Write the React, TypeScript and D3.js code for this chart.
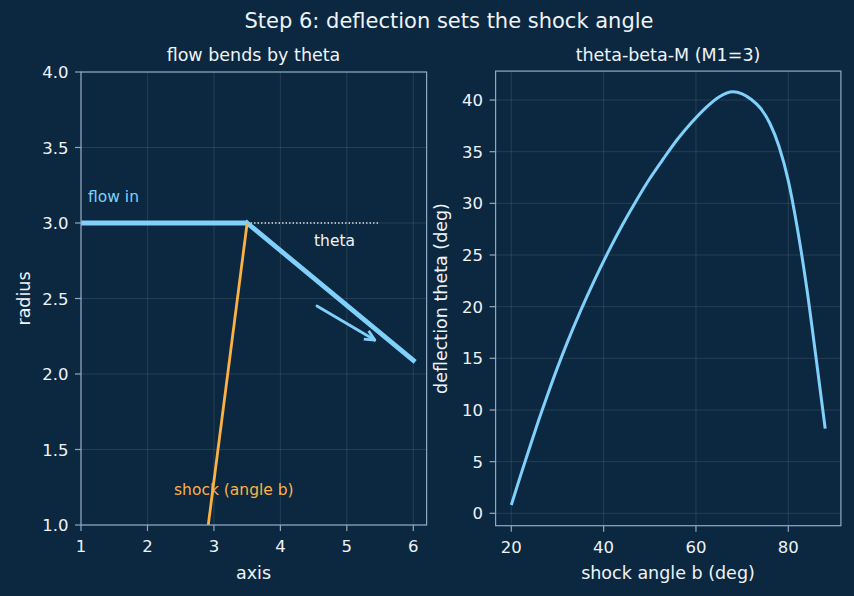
import { useMemo } from 'react';
import * as d3 from 'd3';

// Left panel: wall geometry (axis position, radius)
const FLOW_IN_X = [1, 3.5];
const FLOW_IN_Y = [3.0, 3.0];
const WALL_X = [3.5, 6.0];
const WALL_Y = [3.0, 2.09];
const REF_X = [3.5, 5.5];
const REF_Y = [3.0, 3.0];
const SHOCK_X = [3.5, 2.915];
const SHOCK_Y = [3.0, 1.0];
const ARROW_FROM = [4.55, 2.45];
const ARROW_TO = [5.42, 2.225];

// Right panel: deflection vs shock angle for M1 = 3
const BETA = [20, 22, 24, 26, 28, 30, 32, 35, 38, 41, 44, 47, 50, 53, 56, 59, 62, 65, 68, 70, 72, 74, 76, 78, 80, 82, 84, 86, 88];
const THETA = [0.8, 3.65, 6.4, 9.1, 11.65, 14.1, 16.4, 19.6, 22.55, 25.3, 27.85, 30.2, 32.4, 34.35, 36.2, 37.8, 39.2, 40.3, 40.8, 40.6, 40.05, 39.2, 37.75, 35.5, 32.2, 27.5, 21.8, 15.1, 8.2];

const LEFT_X_TICKS = [1, 2, 3, 4, 5, 6];
const LEFT_Y_TICKS = [1.0, 1.5, 2.0, 2.5, 3.0, 3.5, 4.0];
const RIGHT_X_TICKS = [20, 40, 60, 80];
const RIGHT_Y_TICKS = [0, 5, 10, 15, 20, 25, 30, 35, 40];

const W = 854;
const H = 596;
const BG = '#0c2840';
const TEXT = '#eef3f8';
const SPINE = '#93a8be';
const GRID = 'rgba(255,255,255,0.13)';
const BLUE = '#7fd0fb';
const ORANGE = '#fbb144';
const FONT = 'DejaVu Sans, sans-serif';
const TICK_FS = 16.5;
const LABEL_FS = 17.5;
const NOTE_FS = 15.5;

type Scale = d3.ScaleLinear<number, number>;

function Frame({ x, y, xTicks, yTicks, fmtX, fmtY }: {
  x: Scale; y: Scale; xTicks: number[]; yTicks: number[];
  fmtX: (v: number) => string; fmtY: (v: number) => string;
}) {
  const [x0, x1] = x.range();
  const [y0, y1] = y.range();
  return (
    <g>
      {xTicks.map((t) => (
        <line key={'gx' + t} x1={x(t)} x2={x(t)} y1={y0} y2={y1} stroke={GRID} strokeWidth={0.8} />
      ))}
      {yTicks.map((t) => (
        <line key={'gy' + t} x1={x0} x2={x1} y1={y(t)} y2={y(t)} stroke={GRID} strokeWidth={0.8} />
      ))}
      {xTicks.map((t) => (
        <g key={'tx' + t}>
          <line x1={x(t)} x2={x(t)} y1={y0} y2={y0 + 6} stroke={SPINE} strokeWidth={1.2} />
          <text x={x(t)} y={y0 + 27} fill={TEXT} fontSize={TICK_FS} textAnchor="middle">{fmtX(t)}</text>
        </g>
      ))}
      {yTicks.map((t) => (
        <g key={'ty' + t}>
          <line x1={x0 - 6} x2={x0} y1={y(t)} y2={y(t)} stroke={SPINE} strokeWidth={1.2} />
          <text x={x0 - 12.5} y={y(t) + 6} fill={TEXT} fontSize={TICK_FS} textAnchor="end">{fmtY(t)}</text>
        </g>
      ))}
    </g>
  );
}

function Spines({ x, y }: { x: Scale; y: Scale }) {
  const [x0, x1] = x.range();
  const [y0, y1] = y.range();
  return <rect x={x0} y={y1} width={x1 - x0} height={y0 - y1} fill="none" stroke={SPINE} strokeWidth={1.2} />;
}

export default function App() {
  const xL = useMemo(() => d3.scaleLinear().domain([1, 6.2]).range([81, 426.6]), []);
  const yL = useMemo(() => d3.scaleLinear().domain([1, 4]).range([525, 72]), []);
  const xR = useMemo(() => d3.scaleLinear().domain([16.6, 91.4]).range([495.6, 840.9]), []);
  const yR = useMemo(() => d3.scaleLinear().domain([-1.2, 42.8]).range([525.7, 71.1]), []);

  const seg = (xs: number[], ys: number[], sx: Scale, sy: Scale) =>
    d3.line<number>().x((_, i) => sx(xs[i])).y((_, i) => sy(ys[i]))(xs) || '';

  const curve = d3
    .line<number>()
    .x((_, i) => xR(BETA[i]))
    .y((_, i) => yR(THETA[i]))
    .curve(d3.curveMonotoneX)(BETA) || '';

  // arrow head for the flow-direction hint
  const ax0 = xL(ARROW_FROM[0]), ay0 = yL(ARROW_FROM[1]);
  const ax1 = xL(ARROW_TO[0]), ay1 = yL(ARROW_TO[1]);
  const ang = Math.atan2(ay1 - ay0, ax1 - ax0);
  const hl = 11, hw = 0.45;
  const head = `M${ax1 - hl * Math.cos(ang - hw)},${ay1 - hl * Math.sin(ang - hw)}L${ax1},${ay1}L${ax1 - hl * Math.cos(ang + hw)},${ay1 - hl * Math.sin(ang + hw)}`;

  const f1 = (v: number) => v.toFixed(1);
  const f0 = (v: number) => String(v);

  return (
    <svg width={W} height={H} style={{ position: 'absolute', left: 0, top: 0, fontFamily: FONT }}>
      <rect width={W} height={H} fill={BG} />
      <text x={449} y={28} fill={TEXT} fontSize={21} textAnchor="middle">Step 6: deflection sets the shock angle</text>

      {/* left: wedge geometry */}
      <text x={253.5} y={61} fill={TEXT} fontSize={LABEL_FS} textAnchor="middle">flow bends by theta</text>
      <Frame x={xL} y={yL} xTicks={LEFT_X_TICKS} yTicks={LEFT_Y_TICKS} fmtX={f0} fmtY={f1} />
      <defs>
        <clipPath id="clipL">
          <rect x={81} y={72} width={345.6} height={453} />
        </clipPath>
      </defs>
      <g clipPath="url(#clipL)">
        <path d={seg(FLOW_IN_X, FLOW_IN_Y, xL, yL)} stroke={BLUE} strokeWidth={4.8} fill="none" />
        <path d={seg(REF_X, REF_Y, xL, yL)} stroke={TEXT} strokeWidth={1.3} strokeDasharray="1.3,2.2" fill="none" />
        <path d={seg(WALL_X, WALL_Y, xL, yL)} stroke={BLUE} strokeWidth={4.8} fill="none" strokeLinecap="square" />
        <path d={seg(SHOCK_X, SHOCK_Y, xL, yL)} stroke={ORANGE} strokeWidth={2.8} fill="none" />
        <line x1={ax0} y1={ay0} x2={ax1} y2={ay1} stroke={BLUE} strokeWidth={2.8} strokeLinecap="round" />
        <path d={head} stroke={BLUE} strokeWidth={2.8} fill="none" strokeLinejoin="round" />
      </g>
      <text x={88} y={yL(3.14)} fill={BLUE} fontSize={NOTE_FS}>flow in</text>
      <text x={314} y={yL(2.85)} fill={TEXT} fontSize={NOTE_FS}>theta</text>
      <text x={174} y={yL(1.2)} fill={ORANGE} fontSize={NOTE_FS}>shock (angle b)</text>
      <Spines x={xL} y={yL} />
      <text x={253.5} y={579} fill={TEXT} fontSize={LABEL_FS} textAnchor="middle">axis</text>
      <text transform="translate(30,298.5) rotate(-90)" fill={TEXT} fontSize={LABEL_FS} textAnchor="middle">radius</text>

      {/* right: theta-beta-M curve */}
      <text x={668} y={61} fill={TEXT} fontSize={LABEL_FS} textAnchor="middle">theta-beta-M (M1=3)</text>
      <Frame x={xR} y={yR} xTicks={RIGHT_X_TICKS} yTicks={RIGHT_Y_TICKS} fmtX={f0} fmtY={f0} />
      <path d={curve} stroke={BLUE} strokeWidth={3} fill="none" />
      <Spines x={xR} y={yR} />
      <text x={668} y={579} fill={TEXT} fontSize={LABEL_FS} textAnchor="middle">shock angle b (deg)</text>
      <text transform="translate(447,298.5) rotate(-90)" fill={TEXT} fontSize={LABEL_FS} textAnchor="middle">deflection theta (deg)</text>
    </svg>
  );
}
